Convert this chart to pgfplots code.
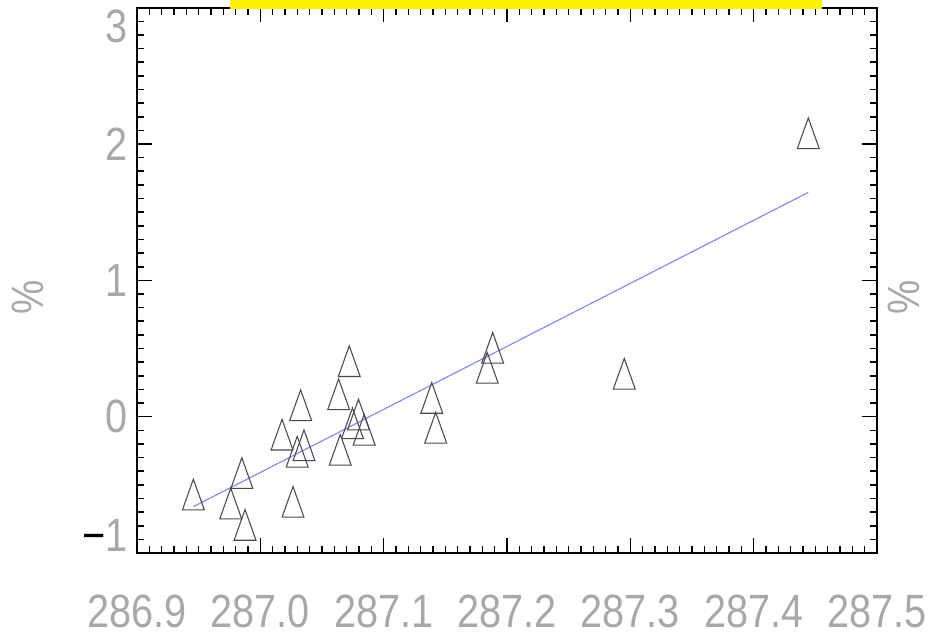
\documentclass[border=0pt]{standalone}
\usepackage{pgfplots}
\pgfplotsset{compat=1.18}
\usepackage{fontspec}
\setmainfont{Liberation Sans}[FakeStretch=0.85]
\definecolor{lblgray}{HTML}{A8A8A8}
\definecolor{mkgray}{HTML}{4A4A4A}
\definecolor{fitblue}{HTML}{8080FF}
\pgfdeclareplotmark{tri}{%
  \pgfpathmoveto{\pgfqpoint{-8.2pt}{-11.5pt}}%
  \pgfpathlineto{\pgfqpoint{0pt}{11.5pt}}%
  \pgfpathlineto{\pgfqpoint{8.2pt}{-11.5pt}}%
  \pgfpathclose\pgfusepathqstroke}
\begin{document}
\begin{tikzpicture}
\useasboundingbox (-102.75pt,-63pt) rectangle (594pt,414.75pt);
\begin{axis}[
  scale only axis,
  width=555pt, height=409pt,
  xmin=286.9, xmax=287.5, ymin=-1, ymax=3,
  xtick={286.9,287.0,287.1,287.2,287.3,287.4,287.5},
  xticklabels={286.9,287.0,287.1,287.2,287.3,287.4,287.5},
  ytick={-1,0,1,2,3},
  yticklabel={\ifcase\ticknum\raisebox{13pt}[\height][\depth]{{\color{black}−}1}\or 0\or 1\or 2\or \raisebox{-14pt}[\height][\depth]{3}\fi},
  minor tick num=9,
  tick align=inside,
  major tick length=11pt,
  minor tick length=5.5pt,
  tick style={black, line width=1.2pt},
  axis line style={black, line width=1.4pt},
  /pgf/number format/assume math mode=true,
  ticklabel style={font=\fontsize{35}{40}\selectfont, text=lblgray, inner sep=0pt},
  xticklabel style={anchor=north, yshift=-31pt},
  yticklabel style={anchor=east, xshift=-7pt},
  clip=false,
]
\addplot[only marks, mark=tri, mark options={draw=mkgray, line width=0.8pt, fill=none}] coordinates {
(286.9457,-0.571) (286.985,-0.414) (286.976,-0.637) (286.9876,-0.794)
(287.0265,-0.625) (287.0176,-0.132) (287.0327,0.084) (287.0299,-0.257)
(287.0354,-0.210) (287.0721,0.407) (287.0635,0.164) (287.0648,-0.243)
(287.0796,0.016) (287.0747,-0.049) (287.0842,-0.096) (287.139,0.1375)
(287.1422,-0.081) (287.1884,0.505) (287.184,0.358) (287.4443,2.079)
(287.2951,0.315)
};
\addplot[fitblue, line width=0.8pt, no marks] coordinates {(286.9457,-0.66) (287.4443,1.645)};
\end{axis}
\node[font=\fontsize{34}{40}\selectfont, text=lblgray, rotate=90, inner sep=0pt] at (-82pt,192pt) {\%};
\node[font=\fontsize{34}{40}\selectfont, text=lblgray, rotate=90, inner sep=0pt] at (575pt,192pt) {\%};
\fill[yellow] (69.75pt,407.8pt) rectangle (513.75pt,414.75pt);
\end{tikzpicture}
\end{document}
